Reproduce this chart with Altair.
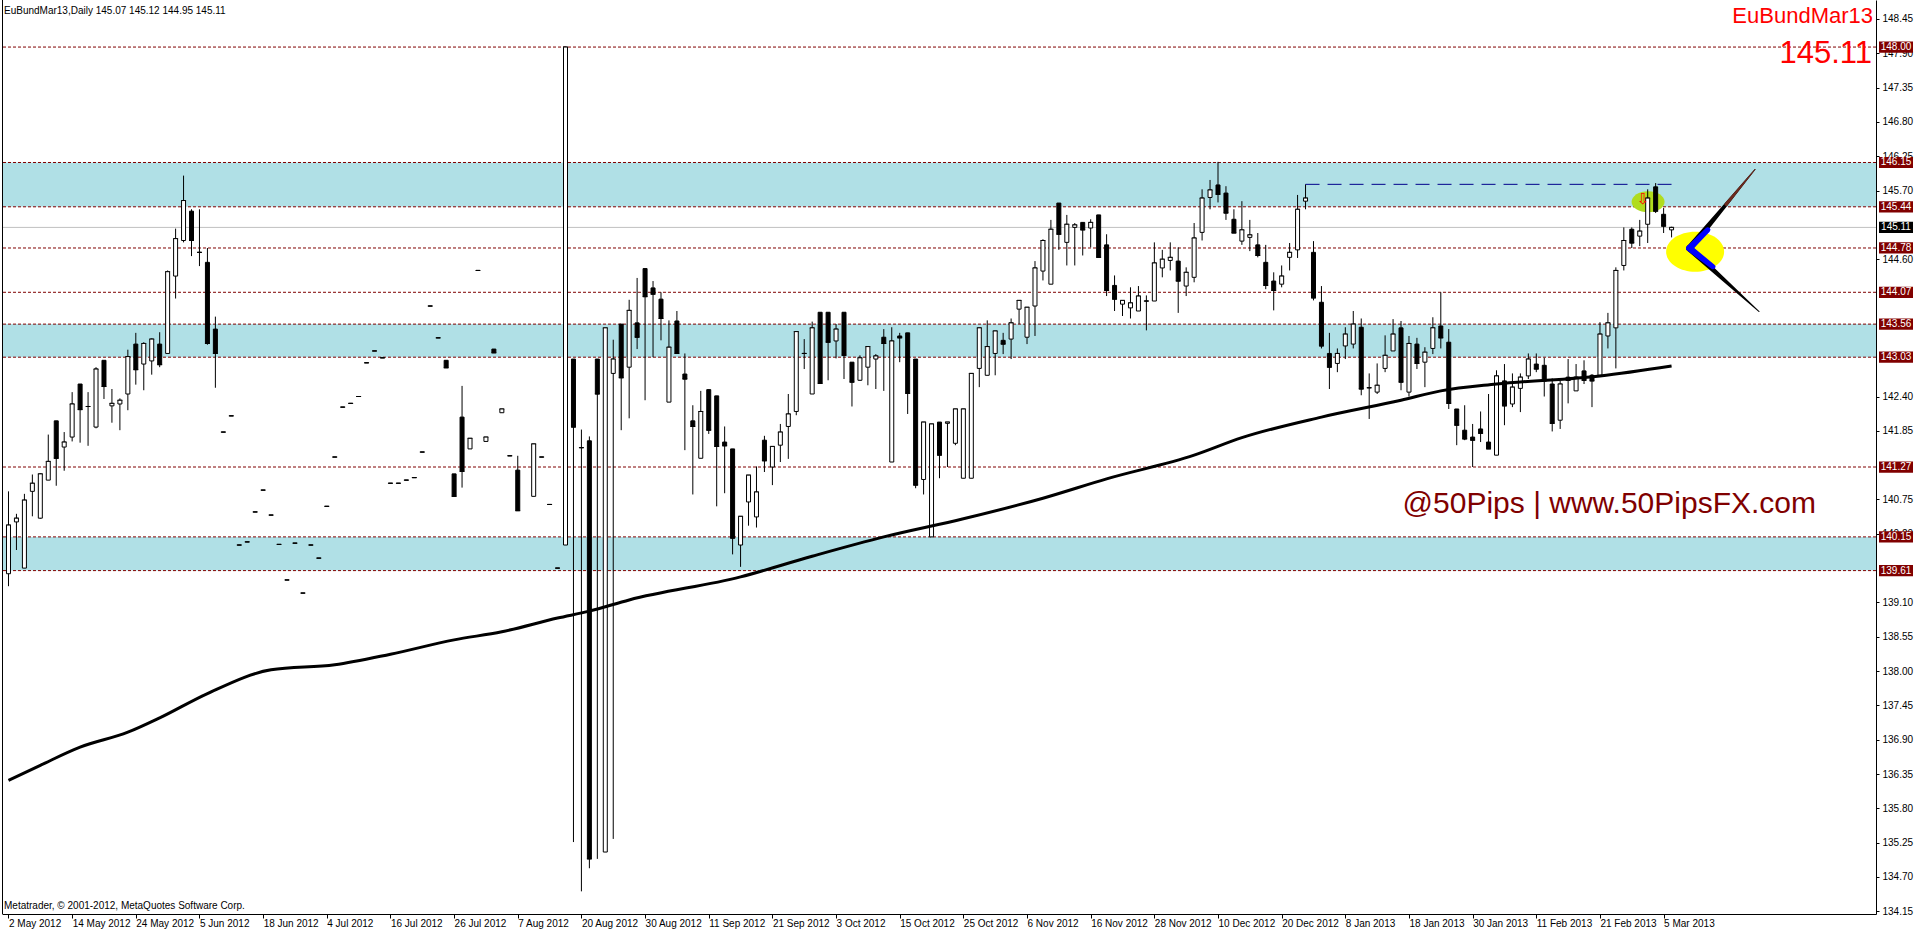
import json
import altair as alt
import pandas as pd

W, H = 1874, 914
X_DOMAIN = [-0.1875, 234.0625]
Y_DOMAIN = [134.107, 148.754]
FONT = "Liberation Sans"

# ---------------- OHLC data (daily bars, index 0 = 2 May 2012) ----------------
opens = [
    139.56, 140.39, 139.65, 140.88, 140.45, 141.06, 142.01, 141.59, 141.75, 142.60,
    142.24, 141.91, 142.98, 142.25, 142.28, 142.44, 143.24, 142.92, 142.97, 143.24,
    143.09, 144.33, 144.90, 145.37, 144.71, 144.55, 143.48, 141.83, 142.09, 140.02,
    140.07, 140.55, 140.90, 140.50, 140.03, 139.46, 140.05, 139.25, 140.02, 139.81,
    140.64, 141.43, 142.23, 142.29, 142.40, 142.94, 143.13, 143.02, 141.01, 141.01,
    141.06, 141.10, 141.51, 143.85, 143.34, 142.98, 141.16, 142.07, 141.56, 144.42,
    141.68, 143.16, 142.14, 141.45, 141.22, None, 140.80, 141.43, 140.67, 139.65,
    140.02, 143.00, 141.58, 141.69, 143.00, 135.10, 142.77, 143.56, 142.87, 143.58,
    144.45, 144.14, 143.96, 142.31, 143.61, 142.76, 142.01, 141.41, 142.51, 142.41,
    141.67, 141.56, 140.02, 140.71, 140.47, 141.70, 141.27, 141.62, 141.92, 142.16,
    143.09, 142.44, 143.75, 143.75, 143.29, 143.75, 142.95, 142.66, 142.87, 143.00,
    143.35, 141.35, 143.37, 143.42, 143.00, 141.07, 140.15, 141.99, 141.97, 141.65,
    141.09, 141.09, 142.85, 142.74, 143.09, 143.30, 143.32, 143.80, 143.35, 143.85,
    144.41, 144.20, 145.50, 144.87, 145.11, 145.19, 145.10, 145.31, 144.83, 144.18,
    143.88, 143.82, 143.77, 143.93, 143.93, 144.46, 144.58, 144.57, 144.17, 144.31,
    145.03, 145.59, 145.79, 145.66, 145.24, 144.89, 144.95, 144.83, 144.55, 144.25,
    144.20, 144.63, 144.75, 145.53, 144.71, 143.91, 143.09, 142.93, 143.21, 143.24,
    143.51, 142.54, 142.47, 142.85, 143.13, 143.50, 142.47, 143.24, 142.95, 143.17,
    143.53, 143.27, 142.20, 141.86, 141.75, 141.88, 141.67, 141.46, 142.65, 142.28,
    142.53, 142.73, 142.92, 142.90, 142.60, 142.02, 142.71, 142.49, 142.81, 142.74,
    142.74, 143.37, 143.50, 144.50, 145.08, 144.97, 145.16, 145.76, 145.32, 145.07,
]
highs = [
    140.88, 140.52, 140.84, 141.15, 141.17, 141.79, 142.01, 141.83, 142.47, 142.60,
    142.47, 142.87, 142.98, 142.52, 142.37, 143.15, 143.42, 143.27, 143.33, 143.43,
    144.42, 145.09, 145.94, 145.40, 145.40, 144.78, 143.68, 141.83, 142.09, 140.02,
    140.07, 140.55, 140.90, 140.50, 140.03, 139.46, 140.05, 139.25, 140.02, 139.81,
    140.64, 141.43, 142.23, 142.29, 142.40, 142.94, 143.13, 143.02, 141.01, 141.01,
    141.06, 141.10, 141.51, 143.85, 143.34, 142.98, 141.16, 142.57, 141.73, 144.42,
    141.75, 143.16, 142.20, 141.45, 141.45, None, 141.64, 141.43, 140.67, 139.65,
    148.00, 143.00, 141.87, 141.76, 143.00, 143.50, 143.31, 143.56, 143.95, 144.30,
    144.45, 144.25, 144.07, 143.62, 143.77, 143.09, 142.26, 142.49, 142.51, 142.41,
    141.92, 141.56, 140.48, 141.14, 141.28, 141.77, 141.60, 141.96, 142.44, 143.44,
    143.32, 143.60, 143.75, 143.75, 143.56, 143.75, 142.95, 143.06, 143.20, 143.08,
    143.48, 143.51, 143.42, 143.42, 143.00, 141.99, 141.96, 141.99, 141.99, 142.20,
    142.20, 142.77, 143.50, 143.62, 143.45, 143.42, 143.65, 143.94, 143.83, 144.57,
    144.92, 145.23, 145.50, 145.31, 145.18, 145.19, 145.24, 145.31, 145.00, 144.34,
    143.94, 144.15, 144.17, 144.02, 144.87, 144.75, 144.87, 144.79, 144.47, 145.18,
    145.72, 145.87, 146.16, 145.77, 145.40, 145.53, 145.23, 145.02, 144.83, 144.39,
    144.50, 144.86, 145.63, 145.80, 144.89, 144.17, 143.42, 143.17, 143.51, 143.77,
    143.65, 142.77, 142.93, 143.38, 143.64, 143.61, 143.37, 143.34, 143.19, 143.67,
    144.07, 143.48, 142.20, 142.26, 141.96, 142.16, 142.44, 142.82, 142.92, 142.77,
    142.77, 143.09, 143.09, 143.02, 142.69, 142.65, 143.00, 142.92, 142.98, 142.76,
    143.59, 143.74, 144.47, 145.11, 145.11, 145.23, 145.72, 145.82, 145.42, 145.12,
]
lows = [
    139.36, 139.94, 139.65, 140.48, 140.44, 141.06, 140.97, 141.21, 141.68, 141.66,
    141.61, 141.89, 142.36, 141.98, 141.86, 142.18, 142.59, 142.50, 142.75, 142.87,
    143.09, 143.97, 144.87, 144.65, 144.49, 143.23, 142.54, 141.83, 142.09, 140.02,
    140.07, 140.55, 140.90, 140.50, 140.03, 139.46, 140.05, 139.25, 140.02, 139.81,
    140.64, 141.43, 142.23, 142.29, 142.40, 142.94, 143.13, 143.02, 141.01, 141.01,
    141.06, 141.10, 141.51, 143.85, 143.34, 142.86, 140.80, 140.94, 141.56, 144.42,
    141.68, 143.10, 142.14, 141.45, 140.57, None, 140.80, 141.43, 140.67, 139.65,
    140.02, 135.26, 134.47, 134.84, 134.99, 135.10, 135.31, 141.86, 142.05, 143.16,
    142.34, 143.03, 143.30, 142.31, 143.09, 141.54, 140.83, 141.41, 141.80, 140.64,
    140.85, 139.87, 139.67, 140.33, 140.30, 141.19, 140.98, 141.35, 141.40, 142.10,
    142.84, 142.44, 142.61, 142.66, 143.01, 142.68, 142.24, 142.65, 142.58, 142.52,
    142.49, 141.35, 142.95, 142.12, 140.93, 140.83, 140.15, 141.09, 141.27, 141.62,
    141.09, 141.09, 142.55, 142.74, 142.74, 143.08, 143.00, 143.56, 143.24, 143.37,
    144.26, 144.20, 144.75, 144.50, 144.50, 144.66, 144.79, 144.63, 144.01, 143.77,
    143.69, 143.65, 143.77, 143.46, 143.93, 144.31, 144.42, 143.74, 144.01, 144.23,
    144.90, 145.40, 145.51, 145.23, 145.02, 144.83, 144.73, 144.63, 144.12, 143.78,
    144.15, 144.42, 144.62, 145.40, 143.94, 143.17, 142.52, 142.79, 143.00, 143.17,
    142.42, 142.04, 142.44, 142.79, 143.13, 142.50, 142.40, 142.84, 142.55, 143.08,
    143.17, 142.20, 141.62, 141.70, 141.27, 141.67, 141.56, 141.46, 141.94, 142.23,
    142.15, 142.68, 142.79, 142.40, 141.84, 141.88, 142.29, 142.49, 142.60, 142.23,
    142.74, 143.17, 142.85, 144.42, 144.78, 144.81, 144.86, 145.34, 145.02, 144.95,
]
closes = [
    140.34, 140.45, 140.74, 141.01, 141.16, 141.36, 141.41, 141.67, 142.28, 142.19,
    142.24, 142.84, 142.56, 142.29, 142.34, 143.04, 142.83, 143.25, 143.32, 142.91,
    144.40, 144.93, 145.54, 144.90, 144.71, 143.25, 143.09, 141.83, 142.09, 140.02,
    140.07, 140.55, 140.90, 140.50, 140.03, 139.46, 140.05, 139.25, 140.02, 139.81,
    140.64, 141.43, 142.23, 142.29, 142.40, 142.94, 143.13, 143.02, 141.01, 141.01,
    141.06, 141.10, 141.51, 143.85, 143.34, 142.86, 140.80, 141.20, 141.73, 144.42,
    141.75, 143.10, 142.20, 141.45, 140.57, None, 141.64, 141.43, 140.67, 139.65,
    148.00, 141.91, 141.58, 134.99, 142.44, 143.50, 143.00, 142.70, 143.78, 143.35,
    144.00, 144.04, 143.65, 143.19, 143.09, 142.68, 141.92, 142.16, 141.86, 141.60,
    141.61, 140.13, 140.48, 141.14, 140.87, 141.37, 141.60, 141.83, 142.12, 143.44,
    143.09, 143.50, 142.61, 143.27, 143.48, 143.06, 142.63, 143.02, 143.20, 143.05,
    143.25, 143.29, 143.34, 142.45, 140.98, 141.99, 141.96, 141.46, 141.99, 142.20,
    142.20, 142.77, 143.50, 143.20, 143.45, 143.24, 143.58, 143.94, 143.83, 144.46,
    144.90, 145.08, 145.00, 145.16, 145.15, 145.07, 145.19, 144.63, 144.10, 143.96,
    143.94, 143.90, 144.01, 143.93, 144.54, 144.60, 144.63, 144.25, 144.39, 144.94,
    145.58, 145.71, 145.64, 145.34, 145.02, 145.07, 144.99, 144.66, 144.18, 144.10,
    144.33, 144.71, 145.40, 145.58, 143.98, 143.21, 142.87, 143.09, 143.40, 143.56,
    142.52, 142.54, 142.58, 143.06, 143.40, 142.63, 143.25, 142.93, 143.11, 143.50,
    143.34, 142.29, 141.94, 141.72, 141.70, 141.81, 141.56, 142.73, 142.25, 142.55,
    142.71, 143.00, 142.84, 142.65, 141.97, 142.60, 142.66, 142.71, 142.66, 142.65,
    143.40, 143.58, 144.42, 144.90, 144.86, 145.05, 145.58, 145.37, 145.13, 145.11,
]

# moving average (bar index, price)
ma_bar = [0, 4, 9, 15, 19, 25, 33, 41, 48, 56, 62, 69, 73, 78, 92, 101, 110, 120,
          130, 138, 149, 155, 165, 175, 180, 187, 200, 209]
ma_price = [136.25, 136.49, 136.78, 137.02, 137.25, 137.64, 138.02, 138.10, 138.27,
            138.50, 138.63, 138.85, 138.96, 139.14, 139.51, 139.84, 140.15, 140.44,
            140.77, 141.08, 141.46, 141.74, 142.07, 142.34, 142.49, 142.60, 142.73,
            142.89]

# axis labels
date_labels = ["2 May 2012", "14 May 2012", "24 May 2012", "5 Jun 2012", "18 Jun 2012",
               "4 Jul 2012", "16 Jul 2012", "26 Jul 2012", "7 Aug 2012", "20 Aug 2012",
               "30 Aug 2012", "11 Sep 2012", "21 Sep 2012", "3 Oct 2012", "15 Oct 2012",
               "25 Oct 2012", "6 Nov 2012", "16 Nov 2012", "28 Nov 2012", "10 Dec 2012",
               "20 Dec 2012", "8 Jan 2013", "18 Jan 2013", "30 Jan 2013", "11 Feb 2013",
               "21 Feb 2013", "5 Mar 2013"]
date_bars = [0, 8, 16, 24, 32, 40, 48, 56, 64, 72, 80, 88, 96, 104, 112, 120, 128,
             136, 144, 152, 160, 168, 176, 184, 192, 200, 208]
# visible price-scale labels (the ones fully hidden under level tags are left out)
price_ticks = [134.15, 134.70, 135.25, 135.80, 136.35, 136.90, 137.45, 138.00, 138.55,
               139.10, 140.20, 140.75, 141.85, 142.40,
               144.60, 145.70, 146.25, 146.80, 147.35, 147.90, 148.45]

# horizontal levels and zones
levels = [148.00, 146.15, 145.44, 144.78, 144.07, 143.56, 143.03, 141.27, 140.15, 139.61]
zone_lo = [145.44, 143.03, 139.61]
zone_hi = [146.15, 143.56, 140.15]
last_price = 145.11
resist_bar = [163, 209]
resist_price = 145.80

# drawn objects
arrow_seg = ["up", "up", "up", "dn", "dn", "dn"]
arrow_bar = [211.25, 215.4, 219.5, 211.25, 215.6, 220.0]
arrow_price = [144.775, 145.41, 146.04, 144.775, 144.27, 143.76]
arrow_width = [6.5, 3.8, 0.8, 6.5, 3.8, 0.8]
blue_seg = ["up", "up", "dn", "dn"]
blue_bar = [211.25, 213.55, 211.25, 214.2]
blue_price = [144.775, 145.07, 144.775, 144.48]
blue_width = [6.5, 5.2, 6.5, 5.0]
tail_bar = [215.85, 219.5]
tail_price = [145.48, 146.04]
tail_width = [3.4, 0.8]

# ---------------- data frames ----------------
rows = []
for i in range(len(opens)):
    if opens[i] is None:
        continue
    o, h, l, c = opens[i], highs[i], lows[i], closes[i]
    rows.append(dict(bar=i, o=o, h=h, l=l, c=c, top=max(o, c), bot=min(o, c),
                     up=bool(c >= o)))
df = pd.DataFrame(rows)
ma_df = pd.DataFrame({"bar": ma_bar, "price": ma_price})
lev_df = pd.DataFrame({"price": levels})
zone_df = pd.DataFrame({"lo": zone_lo, "hi": zone_hi})
box_df = pd.DataFrame({"price": levels + [last_price],
                       "bg": ["#800000"] * len(levels) + ["#000000"]})
arr_df = pd.DataFrame({"seg": arrow_seg, "bar": arrow_bar, "price": arrow_price,
                       "w": arrow_width, "seq": list(range(len(arrow_seg)))})
blue_df = pd.DataFrame({"seg": blue_seg, "bar": blue_bar, "price": blue_price,
                        "w": blue_width, "seq": list(range(len(blue_seg)))})
tail_df = pd.DataFrame({"seg": ["t", "t"], "bar": tail_bar, "price": tail_price,
                        "w": tail_width, "seq": [0, 1]})

xs = alt.Scale(domain=X_DOMAIN, nice=False, zero=False)
ys = alt.Scale(domain=Y_DOMAIN, nice=False, zero=False)
label_expr = json.dumps(date_labels) + "[round(datum.value / 8)]"
x_axis = alt.Axis(orient="bottom", values=date_bars, labelExpr=label_expr, title=None,
                  grid=False, domainColor="black", tickColor="black", tickSize=4,
                  labelAlign="left", labelBaseline="top", labelPadding=0,
                  labelFont=FONT, labelFontSize=10, labelColor="black",
                  labelOverlap=False, labelFlush=False, labelBound=False)
y_axis = alt.Axis(orient="right", values=price_ticks, format=".2f", title=None,
                  grid=False, domainColor="black", tickColor="black", tickSize=3,
                  labelPadding=3, labelFont=FONT, labelFontSize=10, labelColor="black",
                  labelBaseline="middle", labelOverlap=False, labelFlush=False,
                  labelBound=False)


def X(f):
    return alt.X(f, scale=xs, axis=x_axis, title=None)


def Y(f):
    return alt.Y(f, scale=ys, axis=y_axis, title=None)


def ellipse_path(ratio):
    k = 0.5523
    r = ratio
    return (f"M-1,0 C-1,{-k*r} {-k},{-r} 0,{-r} C{k},{-r} 1,{-k*r} 1,0 "
            f"C1,{k*r} {k},{r} 0,{r} C{-k},{r} -1,{k*r} -1,0 Z")


zones = alt.Chart(zone_df).mark_rect(color="#B0E0E6").encode(
    x=alt.value(0), x2=alt.value(W), y=Y("lo:Q"), y2="hi:Q")
last_line = alt.Chart(pd.DataFrame({"price": [last_price]})).mark_rule(
    color="#C0C0C0", strokeWidth=1).encode(y=Y("price:Q"))
level_lines = alt.Chart(lev_df).mark_rule(
    color="#800000", strokeWidth=1, strokeDash=[3, 2]).encode(y=Y("price:Q"))

green_ell = alt.Chart(pd.DataFrame({"bar": [206.05], "price": [145.52]})).mark_point(
    shape=ellipse_path(0.64), size=1089, filled=True, opacity=1, color="#B0DC1E",
    strokeWidth=0).encode(x=X("bar:Q"), y=Y("price:Q"))
red_arrow = alt.Chart(pd.DataFrame({"bar": [205.4], "price": [145.56], "t": ["⇩"]})).mark_text(
    color="red", fontSize=15, font="DejaVu Sans", baseline="middle", align="center").encode(
    x=X("bar:Q"), y=Y("price:Q"), text="t:N")

wicks = alt.Chart(df).mark_rule(color="black", strokeWidth=1).encode(
    x=X("bar:Q"), y=Y("l:Q"), y2="h:Q")
ticks = alt.Chart(df).mark_tick(orient="horizontal", size=5, thickness=1,
                                color="black", opacity=1).encode(
    x=X("bar:Q"), y=Y("c:Q"))
bodies_up = alt.Chart(df).transform_filter("datum.up").mark_bar(
    width=4, fill="white", stroke="black", strokeWidth=1, opacity=1).encode(
    x=X("bar:Q"), y=Y("bot:Q"), y2="top:Q")
bodies_dn = alt.Chart(df).transform_filter("!datum.up").mark_bar(
    width=4, fill="black", stroke="black", strokeWidth=1, opacity=1).encode(
    x=X("bar:Q"), y=Y("bot:Q"), y2="top:Q")

ma_line = alt.Chart(ma_df).mark_line(color="black", strokeWidth=3,
                                     interpolate="monotone").encode(
    x=X("bar:Q"), y=Y("price:Q"))
resist = alt.Chart(pd.DataFrame({"b0": [resist_bar[0]], "b1": [resist_bar[1]],
                                 "price": [resist_price]})).mark_rule(
    color="#00008B", strokeWidth=1, strokeDash=[14, 8]).encode(
    x=X("b0:Q"), x2="b1:Q", y=Y("price:Q"))

yellow_ell = alt.Chart(pd.DataFrame({"bar": [211.96], "price": [144.72]})).mark_point(
    shape=ellipse_path(0.69), size=3364, filled=True, opacity=1, color="#FFFF00",
    strokeWidth=0).encode(x=X("bar:Q"), y=Y("price:Q"))


def trail(d, col):
    return alt.Chart(d).mark_trail(color=col, opacity=1).encode(
        x=X("bar:Q"), y=Y("price:Q"), detail="seg:N", order="seq:Q",
        size=alt.Size("w:Q", scale=None, legend=None))


arrows = trail(arr_df, "black")
arrows_blue = trail(blue_df, "#0000FF")
arrows_tail = trail(tail_df, "#6B2A1E")

watermark = alt.Chart(pd.DataFrame({"bar": [175.2], "price": [140.53],
                                    "t": ["@50Pips | www.50PipsFX.com"]})).mark_text(
    color="#800000", fontSize=30, font=FONT, align="left", baseline="alphabetic").encode(
    x=X("bar:Q"), y=Y("price:Q"), text="t:N")

corner = pd.DataFrame({
    "t": ["EuBundMar13,Daily  145.07 145.12 144.95 145.11",
          "Metatrader, \u00a9 2001-2012, MetaQuotes Software Corp."]})
title_txt = alt.Chart(corner.iloc[[0]]).mark_text(
    font=FONT, fontSize=10, color="black", align="left", baseline="alphabetic").encode(
    x=alt.value(2), y=alt.value(13.5), text="t:N")
credit_txt = alt.Chart(corner.iloc[[1]]).mark_text(
    font=FONT, fontSize=10, color="black", align="left", baseline="alphabetic").encode(
    x=alt.value(2), y=alt.value(909), text="t:N")
sym_txt = alt.Chart(pd.DataFrame({"t": ["EuBundMar13"]})).mark_text(
    font=FONT, fontSize=22, color="#FF0000", align="right", baseline="alphabetic").encode(
    x=alt.value(W - 3), y=alt.value(23), text="t:N")
price_txt = alt.Chart(pd.DataFrame({"t": ["145.11"]})).mark_text(
    font=FONT, fontSize=31, color="#FF0000", align="right", baseline="alphabetic").encode(
    x=alt.value(W - 4), y=alt.value(63), text="t:N")

left_border = alt.Chart(pd.DataFrame({"a": [0]})).mark_rule(
    color="black", strokeWidth=1).encode(x=alt.value(0.5), y=alt.value(0), y2=alt.value(H))

box_shape = "M-1,-0.33 L1,-0.33 L1,0.33 L-1,0.33 Z"
boxes = alt.Chart(box_df).mark_point(shape=box_shape, size=1156, filled=True, opacity=1,
                                     strokeWidth=0).encode(
    x=alt.value(W + 20), y=Y("price:Q"), color=alt.Color("bg:N", scale=None, legend=None))
box_txt = alt.Chart(box_df).mark_text(font=FONT, fontSize=10, color="white",
                                      align="center", baseline="middle").encode(
    x=alt.value(W + 20), y=Y("price:Q"), text=alt.Text("price:Q", format=".2f"))

chart = alt.layer(
    zones, last_line, level_lines, green_ell, wicks, ticks, bodies_up, bodies_dn,
    red_arrow, ma_line, resist, yellow_ell, arrows, arrows_blue, arrows_tail,
    watermark, title_txt, credit_txt, sym_txt, price_txt, left_border, boxes, box_txt
).properties(
    width=W, height=H,
    autosize=alt.AutoSizeParams(type="none"),
    padding={"left": 2, "top": 0, "right": 38, "bottom": 17},
    background="white",
).configure_view(stroke=None)

chart.save("out.html", embed_options={"renderer": "svg", "actions": False})
